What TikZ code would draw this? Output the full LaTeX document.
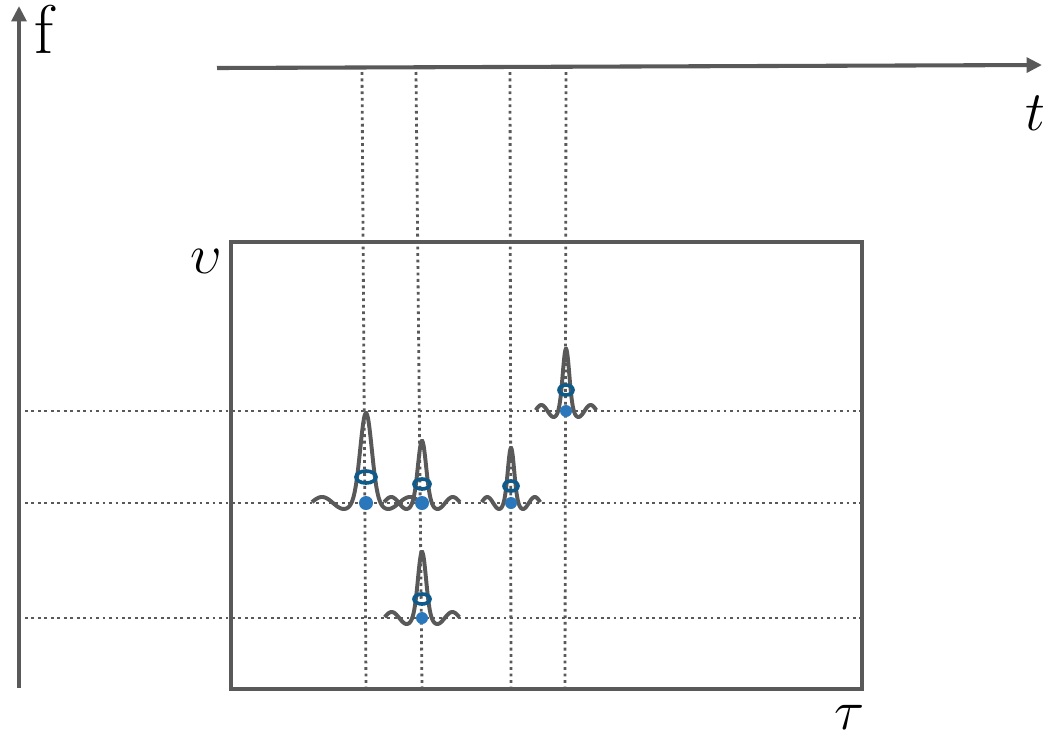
\documentclass[tikz,border=0pt]{standalone}
\usepackage{amsmath,amssymb}
\usepackage{tikz}
\usetikzlibrary{arrows.meta}

% sinc-like pulse: centre x, baseline y, height, horizontal scale
\newcommand{\sincpulse}[4]{%
    \draw[pulse] plot[domain=-54:54, samples=150, smooth]
        ({#1+#4*\x}, {#2-(#3*exp(-min((\x/8)*(\x/8),9))+6*cos(\x/44*360))});
}

\begin{document}
\begin{tikzpicture}[
            x=0.025cm, y=-0.025cm,
            axis/.style={
                draw=axisgray,
                line width=2.9pt,
                -{Triangle[length=11pt, width=10.5pt]}
            },
            frame/.style={
                draw=axisgray,
                line width=2.9pt
            },
            gridline/.style={
                draw=axisgray,
                line width=2pt,
                dash pattern=on 2pt off 2.6pt
            },
            pulse/.style={
                draw=axisgray,
                line width=2.8pt
            },
            ring/.style={
                draw=ringblue,
                line width=2.6pt
            },
            blob/.style={
                fill=dotblue
            },
            label/.style={
                inner sep=0pt,
                font=\fontsize{49}{54}\selectfont
            },
            mathlabel/.style={
                inner sep=0pt,
                font=\fontsize{24.88}{28}\selectfont,
                scale=1.6,
                transform shape
            }
        ]
        \definecolor{axisgray}{HTML}{595959}
        \definecolor{ringblue}{HTML}{0E5A8A}
        \definecolor{dotblue}{HTML}{2A78BB}

        \useasboundingbox (0,0) rectangle (1044,738);

        % axes
        \coordinate (f start) at (19,688);
        \coordinate (f end) at (19,6);
        \coordinate (t start) at (217,68);
        \coordinate (t end) at (1042,65);
        \draw[axis] (f start) -- (f end);
        \draw[axis] (t start) -- (t end);
        \node[label] (f label) at (44,29) {f};
        \node[mathlabel] (t label) at (1035,113) {$t$};

        % ambiguity plane
        \coordinate (plane sw) at (231,689);
        \coordinate (plane ne) at (862,242);
        \draw[frame] (plane sw) rectangle (plane ne);
        \node[mathlabel] (nu label) at (206,261) {$\upsilon$};
        \node[mathlabel] (tau label) at (850,717) {$\tau$};

        % dotted guides
        \foreach \yy in {411,503,618}
            \draw[gridline] (25,\yy) -- (860,\yy);
        \foreach \xa/\xb in {362/366,416/422,510/511,566/565}
            \draw[gridline] (\xa,72) -- (\xb,687);

        % pulses
        \sincpulse{366}{503}{84}{1}
        \sincpulse{422}{503}{56}{0.7}
        \sincpulse{511}{503}{49}{0.54}
        \sincpulse{566}{411}{56}{0.56}
        \sincpulse{422}{618}{60}{0.69}

        % markers
        \draw[ring] (366,477) ellipse [x radius=10, y radius=6];
        \draw[ring] (422,484) ellipse [x radius=8, y radius=5];
        \draw[ring] (511,486) ellipse [x radius=7, y radius=5];
        \draw[ring] (566,390) ellipse [x radius=7, y radius=5];
        \draw[ring] (422,599) ellipse [x radius=8, y radius=5];

        \fill[blob] (366,503) circle [radius=7];
        \fill[blob] (422,503) circle [radius=7];
        \fill[blob] (511,503) circle [radius=6];
        \fill[blob] (566,411) circle [radius=6];
        \fill[blob] (422,618) circle [radius=6];

    \end{tikzpicture}
\end{document}
